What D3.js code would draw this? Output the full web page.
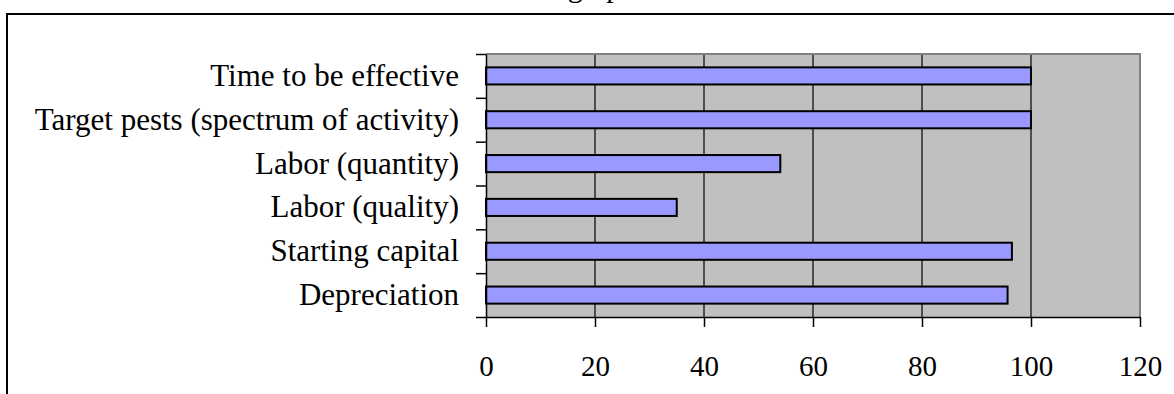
<!DOCTYPE html>
<html>
<head>
<meta charset="utf-8">
<script src="https://cdn.jsdelivr.net/npm/d3@7"></script>
<style>
  html, body { margin: 0; padding: 0; background: #fff; }
  svg { display: block; }
  text { font-family: "Liberation Serif", "Times New Roman", serif; fill: #000; }
</style>
</head>
<body>
<svg id="chart" width="1174" height="394"></svg>
<script>
// Categories, listed top to bottom
const categories = [
  "Time to be effective",
  "Target pests (spectrum of activity)",
  "Labor (quantity)",
  "Labor (quality)",
  "Starting capital",
  "Depreciation"
];
const values = [100, 100, 54, 35, 96.5, 95.7];
const xTicks = [0, 20, 40, 60, 80, 100, 120];
const titleText = "graph";

const svg = d3.select("#chart");
const plot = { left: 486, right: 1140, top: 54, bottom: 317 };

// Outer frame (runs past the right and bottom edges)
svg.append("path")
  .attr("d", "M7,400 L7,14 L1180,14")
  .attr("fill", "none")
  .attr("stroke", "#000")
  .attr("stroke-width", 2);

// Title, mostly above the visible area
svg.append("text")
  .attr("x", 602)
  .attr("y", -3)
  .attr("text-anchor", "middle")
  .style("font-size", "30px")
  .text(titleText);

const x = d3.scaleLinear().domain([0, 120]).range([plot.left, plot.right]);
const y = d3.scaleBand().domain(categories).range([plot.top, plot.bottom])
  .paddingInner(0.61).paddingOuter(0.305);
const yEdges = d3.scaleLinear().domain([0, categories.length]).range([plot.top, plot.bottom]);

// Plot background
svg.append("rect")
  .attr("x", plot.left).attr("y", plot.top)
  .attr("width", plot.right - plot.left).attr("height", plot.bottom - plot.top)
  .attr("fill", "#c0c0c0");

// Vertical gridlines
svg.append("g").selectAll("line")
  .data(xTicks.filter(d => d > 0 && d < 120))
  .join("line")
  .attr("x1", d => x(d)).attr("x2", d => x(d))
  .attr("y1", plot.top).attr("y2", plot.bottom)
  .attr("stroke", "#000").attr("stroke-width", 1.2);

// Grey plot border (top and right)
svg.append("path")
  .attr("d", `M${plot.left},${plot.top} L${plot.right},${plot.top} L${plot.right},${plot.bottom}`)
  .attr("fill", "none").attr("stroke", "#808080").attr("stroke-width", 2);

// Bars
svg.append("g").selectAll("rect")
  .data(categories.map((c, i) => ({ c, v: values[i] })))
  .join("rect")
  .attr("x", x(0))
  .attr("y", d => y(d.c))
  .attr("width", d => x(d.v) - x(0))
  .attr("height", y.bandwidth())
  .attr("fill", "#9999ff")
  .attr("stroke", "#000")
  .attr("stroke-width", 2);

// Left axis: tick marks on category boundaries
const leftAxis = svg.append("g")
  .attr("transform", `translate(${plot.left},0)`)
  .call(d3.axisLeft(yEdges).tickValues(d3.range(categories.length + 1))
    .tickFormat("").tickSize(10).tickSizeOuter(0));
leftAxis.selectAll("line, path").attr("stroke", "#000").attr("stroke-width", 1.5);

// Category labels
svg.append("g").selectAll("text")
  .data(categories)
  .join("text")
  .attr("x", 459)
  .attr("y", d => y(d) + y.bandwidth() / 2)
  .attr("dy", "0.32em")
  .attr("text-anchor", "end")
  .style("font-size", "31px")
  .text(d => d);

// Bottom axis
const bottomAxis = svg.append("g")
  .attr("transform", `translate(0,${plot.bottom})`)
  .call(d3.axisBottom(x).tickValues(xTicks).tickSize(10).tickSizeOuter(0).tickPadding(28));
bottomAxis.selectAll("line, path").attr("stroke", "#000").attr("stroke-width", 1.5);
bottomAxis.selectAll("text")
  .style("font-size", "29px")
  .style("font-family", "'Liberation Serif', 'Times New Roman', serif")
  .attr("fill", "#000");
</script>
</body>
</html>
